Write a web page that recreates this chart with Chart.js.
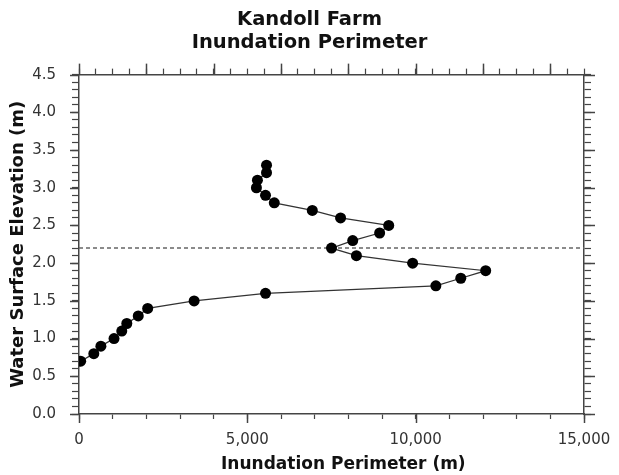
<!DOCTYPE html>
<html>
<head>
<meta charset="utf-8">
<script src="https://cdn.jsdelivr.net/npm/chart.js@4.4.1/dist/chart.umd.min.js"></script>
<style>
  body { margin: 0; background: #fff; }
  #perimChart { display: block; }
</style>
</head>
<body>
<canvas id="perimChart" width="619" height="475"></canvas>
<script>
// values
var elevation = [0.7, 0.8, 0.9, 1.0, 1.1, 1.2, 1.3, 1.4, 1.5, 1.6, 1.7, 1.8, 1.9,
                 2.0, 2.1, 2.2, 2.3, 2.4, 2.5, 2.6, 2.7, 2.8, 2.9, 3.0, 3.1, 3.2, 3.3];
var perimeter = [50, 440, 650, 1040, 1270, 1420, 1760, 2040, 3420, 5540, 10600, 11340, 12080,
                 9910, 8240, 7500, 8130, 8930, 9200, 7770, 6930, 5800, 5540, 5270, 5300, 5570, 5570];
var refLevelX = [0, 15000];
var refLevelY = [2.2, 2.2];
var titleLines = ['Kandoll Farm', 'Inundation Perimeter'];

var axisColor = '#444';
var font = 'DejaVu Sans';

// longer marks on the major ticks of each axis
var majorTicks = {
    x:  { every: 5000, len: 9 },
    x2: { every: 2000, len: 11 },
    y:  { every: 0.5, len: 9 },
    y2: { every: 0.5, len: 11 }
};

var majorTickPlugin = {
    id: 'majorTicks',
    afterDraw: function(chart) {
        var c = chart.ctx;
        c.save();
        c.strokeStyle = axisColor;
        c.lineWidth = 1.5;
        Object.keys(majorTicks).forEach(function(id) {
            var s = chart.scales[id];
            var m = majorTicks[id];
            s.ticks.forEach(function(t) {
                var q = t.value / m.every;
                if (Math.abs(q - Math.round(q)) > 1e-6) return;
                var p = Math.round(s.getPixelForValue(t.value)) + 0.5;
                c.beginPath();
                if (s.position === 'bottom') { c.moveTo(p, s.top); c.lineTo(p, s.top + m.len); }
                if (s.position === 'top') { c.moveTo(p, s.bottom); c.lineTo(p, s.bottom - m.len); }
                if (s.position === 'left') { c.moveTo(s.right, p); c.lineTo(s.right - m.len, p); }
                if (s.position === 'right') { c.moveTo(s.left, p); c.lineTo(s.left + m.len, p); }
                c.stroke();
            });
        });
        c.restore();
    }
};

window.onload = function() {
    renderChart();
};

function renderChart() {
    var points = perimeter.map(function(p, i) { return { x: p, y: elevation[i] }; });
    var refLine = refLevelX.map(function(x, i) { return { x: x, y: refLevelY[i] }; });

    var ctx = document.getElementById('perimChart').getContext('2d');
    var chart = new Chart(ctx, {
        type: 'scatter',
        data: {
            datasets: [{
                data: points,
                showLine: true,
                borderColor: '#333',
                borderWidth: 1.3,
                pointRadius: 5.5,
                pointBackgroundColor: '#000',
                pointBorderColor: '#000',
                pointBorderWidth: 0
            }, {
                data: refLine,
                showLine: true,
                borderColor: '#666',
                borderWidth: 1.5,
                borderDash: [4, 3],
                pointRadius: 0
            }]
        },
        plugins: [majorTickPlugin],
        options: {
            responsive: false,
            animation: false,
            layout: { padding: 0 },
            plugins: {
                legend: { display: false },
                tooltip: { enabled: false },
                title: {
                    display: true,
                    text: titleLines,
                    color: '#111',
                    font: { family: font, size: 19.5, weight: 'bold', lineHeight: 1.17 },
                    padding: { top: 8.5, bottom: 8.5 }
                }
            },
            scales: {
                x: {
                    type: 'linear',
                    position: 'bottom',
                    min: 0,
                    max: 15000,
                    afterFit: function(s) {
                        s.height = 61;
                        s.paddingLeft = 0;
                        s.paddingRight = 0;
                    },
                    ticks: {
                        stepSize: 1000,
                        autoSkip: false,
                        maxRotation: 0,
                        padding: 12,
                        color: '#333',
                        font: { family: font, size: 15 },
                        callback: function(v) {
                            return v % 5000 === 0 ? v.toLocaleString('en-US') : '';
                        }
                    },
                    grid: {
                        drawOnChartArea: false,
                        tickLength: 5,
                        tickColor: axisColor,
                        tickWidth: 1.2
                    },
                    border: { display: true, color: axisColor, width: 1.5 },
                    title: {
                        display: true,
                        text: '    Inundation Perimeter (m)',
                        color: '#111',
                        font: { family: font, size: 17, weight: 'bold' },
                        padding: { top: 0, bottom: 0 }
                    }
                },
                x2: {
                    type: 'linear',
                    position: 'top',
                    min: 0,
                    max: 15000,
                    afterFit: function(s) {
                        s.height = 12;
                        s.paddingLeft = 0;
                        s.paddingRight = 0;
                    },
                    ticks: { stepSize: 500, autoSkip: false, display: false },
                    grid: {
                        drawOnChartArea: false,
                        tickLength: 6,
                        tickColor: axisColor,
                        tickWidth: 1.2
                    },
                    border: { display: true, color: axisColor, width: 1.5 }
                },
                y: {
                    type: 'linear',
                    position: 'left',
                    min: 0,
                    max: 4.5,
                    afterFit: function(s) { s.width = 79; },
                    ticks: {
                        stepSize: 0.1,
                        autoSkip: false,
                        padding: 16,
                        color: '#333',
                        font: { family: font, size: 15 },
                        callback: function(v) {
                            var t = Math.round(v * 10);
                            return t % 5 === 0 ? (t / 10).toFixed(1) : '';
                        }
                    },
                    grid: {
                        drawOnChartArea: false,
                        tickLength: 7,
                        tickColor: axisColor,
                        tickWidth: 1.2
                    },
                    border: { display: true, color: axisColor, width: 1.5 },
                    title: {
                        display: true,
                        text: 'Water Surface Elevation (m)',
                        color: '#111',
                        font: { family: font, size: 18, weight: 'bold' },
                        padding: { top: 8, bottom: 0 }
                    }
                },
                y2: {
                    type: 'linear',
                    position: 'right',
                    min: 0,
                    max: 4.5,
                    afterFit: function(s) { s.width = 35; },
                    ticks: { stepSize: 0.1, autoSkip: false, display: false },
                    grid: {
                        drawOnChartArea: false,
                        tickLength: 7,
                        tickColor: axisColor,
                        tickWidth: 1.2
                    },
                    border: { display: true, color: axisColor, width: 1.5 }
                }
            }
        }
    });
}
</script>
</body>
</html>
